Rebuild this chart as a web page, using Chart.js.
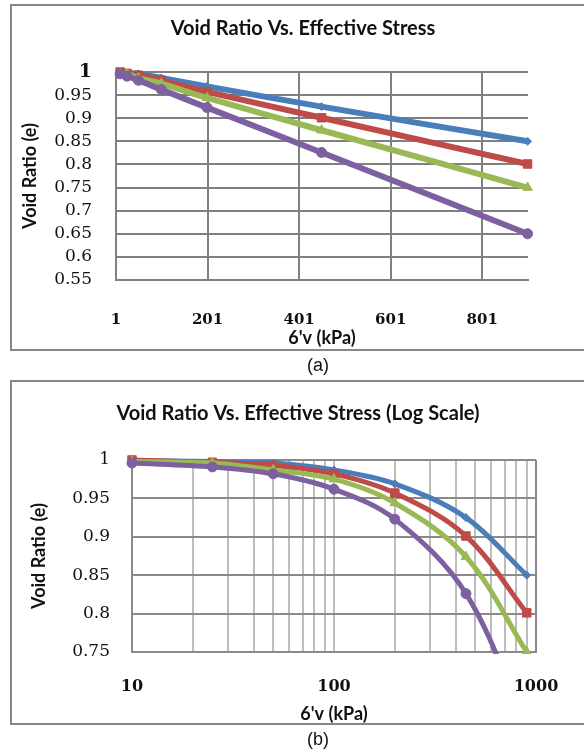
<!DOCTYPE html>
<html>
<head>
<meta charset="utf-8">
<script src="https://cdn.jsdelivr.net/npm/chart.js@4.4.0/dist/chart.umd.min.js"></script>
<style>
body{margin:0;width:584px;height:755px;overflow:hidden;background:#fff;position:relative}
.box{position:absolute;left:10px;width:600px;border:2px solid #878787;box-sizing:border-box}
#boxA{top:4px;height:347px}
#boxB{top:380px;height:345px}
canvas{position:absolute;left:0}
#chartA{top:0}
#chartB{top:370px}
.cap{position:absolute;left:268px;width:100px;height:22px;line-height:22px;text-align:center;font:18px "Liberation Sans",Arial,sans-serif;color:#111}
</style>
</head>
<body>
<div class="box" id="boxA"></div>
<div class="box" id="boxB"></div>
<canvas id="chartA" width="606" height="360"></canvas>
<canvas id="chartB" width="596" height="360"></canvas>
<div class="cap" style="top:355px">(a)</div>
<div class="cap" style="top:729px">(b)</div>
<script>
// data
const stress = [10, 25, 50, 100, 200, 450, 900]
const e1 = [0.999, 0.998, 0.996, 0.987, 0.969, 0.925, 0.85]
const e2 = [1.0, 0.997, 0.993, 0.982, 0.957, 0.901, 0.801]
const e3 = [0.998, 0.996, 0.987, 0.975, 0.944, 0.874, 0.75]
const e4 = [0.996, 0.991, 0.982, 0.962, 0.923, 0.826, 0.65]

const xTicksA = [1, 201, 401, 601, 801]
const yTicksA = [0.55, 0.6, 0.65, 0.7, 0.75, 0.8, 0.85, 0.9, 0.95, 1]
const xGridB = [10, 20, 30, 40, 50, 60, 70, 80, 90, 100, 200, 300, 400, 500, 600, 700, 800, 900, 1000]
const xLabelsB = [10, 100, 1000]
const yTicksB = [0.75, 0.8, 0.85, 0.9, 0.95, 1]

const titleA = 'Void Ratio Vs. Effective Stress'
const titleB = 'Void Ratio Vs. Effective Stress (Log Scale)'
const xTitle = "6'v (kPa)"
const yTitle = 'Void Ratio (e)'

const colors = ['#4a7ebb', '#be4b48', '#98b954', '#7d60a0']
const shapes = ['rectRot', 'rect', 'triangle', 'circle']
const radii = [4, 6, 5.5, 5]
const series = [e1, e2, e3, e4]

function makeSets(lineW, clip){
	return series.map((s, i) => ({
		data: stress.map((x, j) => ({x: x, y: s[j]})),
		borderColor: colors[i],
		backgroundColor: colors[i],
		pointBackgroundColor: colors[i],
		pointBorderColor: colors[i],
		pointStyle: shapes[i],
		pointRadius: radii[i],
		pointBorderWidth: 1,
		borderWidth: lineW,
		tension: 0.35,
		order: 4 - i,
		clip: clip
	}))
}

const fmt = v => String(+Number(v).toFixed(2))
const titleFont = {family: 'Lato', weight: 'bold', size: 20}
const axisFont = {family: 'Lato', weight: 'bold', size: 18}
const serif = '"DejaVu Serif", serif'

// empty axis on the right: keeps the plot narrower than the title box
const spacer = w => ({
	type: 'linear', position: 'right', display: true,
	grid: {display: false}, border: {display: false}, ticks: {display: false},
	afterFit: s => { s.width = w }
})

// Chart (a) - linear
new Chart(document.getElementById('chartA'), {
	type: 'line',
	data: {datasets: makeSets(6, false)},
	options: {
		responsive: false,
		animation: false,
		layout: {padding: 0},
		plugins: {
			legend: {display: false},
			tooltip: {enabled: false},
			title: {display: true, text: titleA, color: '#111', font: titleFont, padding: {top: 17, bottom: 31}}
		},
		scales: {
			x: {
				type: 'linear', min: 1, max: 901,
				afterFit: s => { s.height = 80 },
				afterBuildTicks: s => { s.ticks = xTicksA.map(v => ({value: v})) },
				grid: {color: '#808080', lineWidth: 2, drawTicks: false},
				border: {color: '#808080', width: 2},
				ticks: {padding: 31, color: '#111', maxRotation: 0, autoSkip: false,
					font: {family: serif, weight: 'bold', size: 15}},
				title: {display: true, text: xTitle, color: '#111', font: axisFont, padding: {top: 0, bottom: 11}}
			},
			y: {
				min: 0.55, max: 1,
				afterFit: s => { s.width = 116 },
				afterBuildTicks: s => { s.ticks = yTicksA.map(v => ({value: v})) },
				grid: {color: '#808080', lineWidth: 2, drawTicks: false},
				border: {color: '#808080', width: 2},
				ticks: {padding: 24, color: '#111', autoSkip: false, callback: fmt,
					font: ctx => ctx.tick && ctx.tick.value === 1
						? {family: serif, weight: 'bold', size: 19}
						: {family: serif, weight: 'normal', size: 17}},
				title: {display: true, text: yTitle, color: '#111', font: axisFont, padding: {top: 19, bottom: 0}}
			},
			pad: spacer(78)
		}
	}
})

// Chart (b) - log scale
new Chart(document.getElementById('chartB'), {
	type: 'line',
	data: {datasets: makeSets(5, {left: false, top: false, right: false, bottom: 2})},
	options: {
		responsive: false,
		animation: false,
		layout: {padding: 0},
		plugins: {
			legend: {display: false},
			tooltip: {enabled: false},
			title: {display: true, text: titleB, color: '#111', font: titleFont, padding: {top: 32, bottom: 34}}
		},
		scales: {
			x: {
				type: 'logarithmic', min: 10, max: 1000,
				afterFit: s => { s.height = 78 },
				afterBuildTicks: s => { s.ticks = xGridB.map(v => ({value: v})) },
				grid: {drawTicks: false, lineWidth: 2,
					color: ctx => ctx.tick && ctx.tick.value === 1000 ? '#8a8a8a' : '#bcbcbc'},
				border: {color: '#8a8a8a', width: 2},
				ticks: {padding: 25, color: '#111', maxRotation: 0, autoSkip: false,
					callback: v => xLabelsB.includes(v) ? String(v) : '',
					font: {family: serif, weight: 'bold', size: 16}},
				title: {display: true, text: xTitle, color: '#111', font: axisFont, padding: {top: 0, bottom: 5}}
			},
			y: {
				min: 0.75, max: 1,
				afterFit: s => { s.width = 132 },
				afterBuildTicks: s => { s.ticks = yTicksB.map(v => ({value: v})) },
				grid: {color: '#8a8a8a', lineWidth: 2, drawTicks: false},
				border: {color: '#8a8a8a', width: 2},
				ticks: {padding: 22, color: '#111', autoSkip: false, callback: fmt,
					font: {family: serif, weight: 'normal', size: 17}},
				title: {display: true, text: yTitle, color: '#111', font: axisFont, padding: {top: 28, bottom: 0}}
			},
			pad: spacer(60)
		}
	}
})
</script>
</body>
</html>
